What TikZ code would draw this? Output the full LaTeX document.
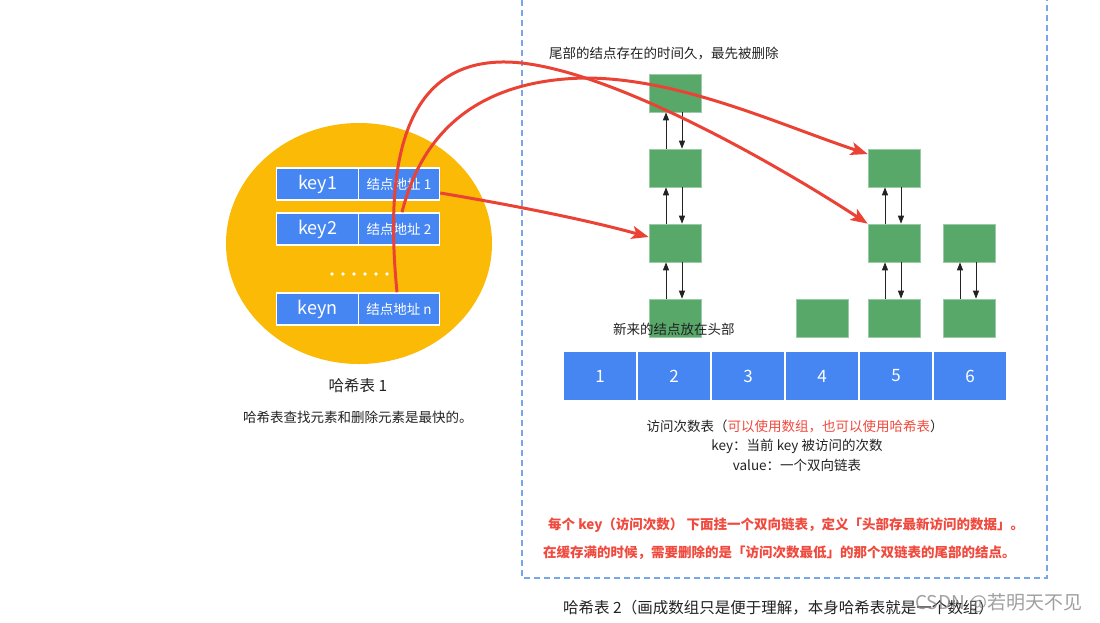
\documentclass[tikz,border=0pt]{standalone}
\usepackage{fontspec}
\setmainfont{Noto Sans CJK SC}
\usetikzlibrary{shapes.geometric,arrows.meta}
\definecolor{cgold}{HTML}{FBBA06}
\definecolor{cblue}{HTML}{4586F3}
\definecolor{cgreen}{HTML}{58A86A}
\definecolor{cred}{HTML}{EA4335}
\definecolor{ctext}{HTML}{F04A3E}
\definecolor{cdash}{HTML}{78A6EE}
\definecolor{cblack}{HTML}{222222}
\newcommand{\fs}[1]{\fontsize{#1}{#1}\selectfont}
\begin{document}
\begin{tikzpicture}[x=1pt,y=-1pt,
  cellk/.style={rectangle, fill=cblue, draw=white, line width=1.5pt, minimum width=82pt, minimum height=32pt, inner sep=0pt, text=white, font=\fs{18}},
  cellv/.style={rectangle, fill=cblue, draw=white, line width=1.5pt, minimum width=81pt, minimum height=32pt, inner sep=0pt, text=white, font=\fs{13.5}},
  acell/.style={rectangle, fill=cblue, draw=white, line width=2pt, minimum width=74pt, minimum height=50pt, inner sep=0pt, text=white, font=\fs{17}},
  gbox/.style={rectangle, fill=cgreen, draw=cgreen!60!white, line width=0.6pt, minimum width=52pt, minimum height=38pt, inner sep=0pt},
  blk/.style={-{Triangle[length=8pt,width=6pt]}, line width=0.9pt, cblack},
  redarr/.style={-{Stealth[length=17pt,width=13pt,inset=4pt]}, line width=3pt, cred},
  lbl/.style={inner sep=0pt, text=cblack, font=\fs{13.5}},
  note/.style={inner sep=0pt, text=ctext, font=\bfseries\fs{13.5}}
]
\useasboundingbox (0,0) rectangle (1100,622);

% dashed frame of hash table 2
\draw[cdash, line width=1.2pt, dash pattern=on 6pt off 4pt] (522,-10) -- (522,578) -- (1047,578) -- (1047,-10);

% hash table 1
\node[ellipse, fill=cgold, minimum width=266pt, minimum height=241pt, inner sep=0pt] (ht1) at (359,243.5) {};
\node[cellk] (k1) at (317.5,184) {key1};
\node[cellv] (v1) at (399,184) {结点地址 1};
\node[cellk] (k2) at (317.5,229) {key2};
\node[cellv] (v2) at (399,229) {结点地址 2};
\node[cellk] (kn) at (317.5,309) {keyn};
\node[cellv] (vn) at (399,309) {结点地址 n};
\foreach \i in {0,...,5} \fill[white] (332+11*\i,274) circle (1.8pt);
\node[lbl, font=\fs{15.5}] (ht1t) at (358,386) {哈希表 1};
\node[lbl, anchor=west] (ht1d) at (243,417) {哈希表查找元素和删除元素是最快的。};

% access-count array
\node[acell] (c1) at (600,376) {1};
\node[acell] (c2) at (674,376) {2};
\node[acell] (c3) at (748,376) {3};
\node[acell] (c4) at (822,376) {4};
\node[acell] (c5) at (896,376) {5};
\node[acell] (c6) at (970,376) {6};

% linked lists
\node[gbox] (a1) at (675,93) {};
\node[gbox] (a2) at (675,168) {};
\node[gbox] (a3) at (675,243) {};
\node[gbox] (a4) at (675,318) {};
\node[gbox] (d1) at (822,318) {};
\node[gbox] (b1) at (894,168) {};
\node[gbox] (b2) at (894,243) {};
\node[gbox] (b3) at (894,318) {};
\node[gbox] (e1) at (969,243) {};
\node[gbox] (e2) at (969,318) {};

\foreach \lo/\up in {a2/a1,a3/a2,a4/a3,b2/b1,b3/b2,e2/e1}{
  \draw[blk] ([xshift=-9pt]\lo.north) -- ([xshift=-9pt]\up.south);
  \draw[blk] ([xshift=7pt]\up.south) -- ([xshift=7pt]\lo.north);
}

% texts of hash table 2
\node[lbl, anchor=west] (tail) at (549,54) {尾部的结点存在的时间久，最先被删除};
\node[lbl, anchor=west] (head) at (613,329) {新来的结点放在头部};
\node[lbl] (cnt1) at (795,426) {访问次数表（\textcolor{ctext}{可以使用数组，也可以使用哈希表}）};
\node[lbl] (cnt2) at (797,446) {key：当前 key 被访问的次数};
\node[lbl] (cnt3) at (797,465) {value：一个双向链表};
\node[note, anchor=west] (n1) at (548,525) {每个 key（访问次数） 下面挂一个双向链表，定义「头部存最新访问的数据」。};
\node[note, anchor=west] (n2) at (543,553) {在缓存满的时候，需要删除的是「访问次数最低」的那个双链表的尾部的结点。};
\node[lbl, anchor=west, font=\fs{15.5}] (ht2t) at (563,608) {哈希表 2（画成数组只是便于理解，本身哈希表就是一个数组）};
\node[inner sep=0pt, anchor=west, text=gray, opacity=0.75, font=\fs{19}] (wm) at (915,603) {CSDN @若明天不见};

% red pointers
\draw[redarr] ([yshift=-9pt]v1.east) .. controls (500,203) and (580,218) .. ([yshift=6pt]a3.west);
\draw[redarr] ([xshift=3pt]v2.north) .. controls (420,140) and (470,80) .. (585,78) .. controls (680,78) and (780,125) .. ([yshift=14pt]b1.west);
\draw[redarr] ([xshift=-2pt]vn.north) .. controls (385,170) and (400,60) .. (507,62) .. controls (600,64) and (770,160) .. (b2.north west);
\end{tikzpicture}
\end{document}
